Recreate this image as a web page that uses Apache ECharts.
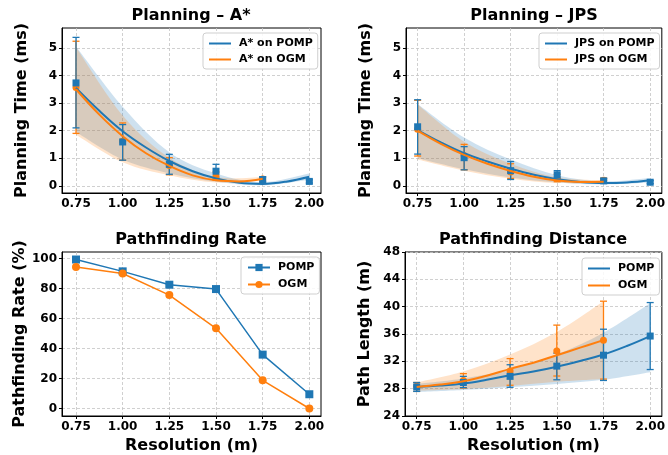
<!DOCTYPE html>
<html><head><meta charset="utf-8">
<script src="https://cdn.jsdelivr.net/npm/echarts@6/dist/echarts.min.js"></script>
<style>html,body{margin:0;padding:0;background:#fff}#c{width:668px;height:455px}</style>
</head><body><div id="c"></div>
<script>
// ---------- data ----------
const RES = [0.75, 1.00, 1.25, 1.50, 1.75, 2.00];
const RES_OGM = [0.75, 1.00, 1.25, 1.50, 1.75];
const FIT_X = [0.75, 0.875, 1.00, 1.125, 1.25, 1.375, 1.50, 1.625, 1.75, 1.875, 2.00];
const FIT_X_OGM = [0.75, 0.875, 1.00, 1.125, 1.25, 1.375, 1.50, 1.625, 1.75];
const X_TICKS = [0.75, 1.00, 1.25, 1.50, 1.75, 2.00];
const TIME_TICKS = [0, 1, 2, 3, 4, 5];
const RATE_TICKS = [0, 20, 40, 60, 80, 100];

// A* planning time (ms)
const astarPompMean = [3.73, 1.59, 0.78, 0.53, 0.23, 0.16];
const astarPompLow  = [2.10, 0.93, 0.42, 0.28, 0.14, 0.10];
const astarPompHigh = [5.38, 2.22, 1.14, 0.78, 0.32, 0.22];
const astarOgmMean  = [3.56, 1.62, 0.74, 0.35, 0.25];
const astarOgmLow   = [1.90, 0.93, 0.40, 0.20, 0.18];
const astarOgmHigh  = [5.24, 2.28, 1.02, 0.50, 0.32];
const astarPompFit  = [3.55, 2.72, 1.98, 1.39, 0.90, 0.53, 0.27, 0.11, 0.07, 0.15, 0.33];
const astarOgmFit   = [3.50, 2.58, 1.80, 1.18, 0.72, 0.38, 0.20, 0.16, 0.26];
const astarPompBandLow  = [1.95, 0.95, 0.45, 0.15, 0.02, 0.22];
const astarPompBandHigh = [5.05, 2.87, 1.22, 0.45, 0.14, 0.45];
const astarOgmBandLow   = [1.85, 0.85, 0.38, 0.12, 0.20];
const astarOgmBandHigh  = [5.02, 2.55, 1.02, 0.32, 0.32];

// JPS planning time (ms)
const jpsPompMean = [2.14, 1.02, 0.55, 0.40, 0.18, 0.13];
const jpsPompLow  = [1.15, 0.58, 0.23, 0.26, 0.12, 0.08];
const jpsPompHigh = [3.12, 1.42, 0.88, 0.55, 0.26, 0.19];
const jpsOgmMean  = [2.05, 1.10, 0.50, 0.28, 0.20];
const jpsOgmLow   = [1.08, 0.58, 0.27, 0.15, 0.12];
const jpsOgmHigh  = [3.10, 1.50, 0.80, 0.42, 0.28];
const jpsPompFit  = [2.02, 1.57, 1.18, 0.88, 0.62, 0.40, 0.24, 0.14, 0.10, 0.12, 0.20];
const jpsOgmFit   = [2.00, 1.52, 1.12, 0.80, 0.54, 0.33, 0.19, 0.14, 0.15];
const jpsPompBandLow  = [1.00, 0.60, 0.30, 0.12, 0.05, 0.12];
const jpsPompBandHigh = [2.97, 1.75, 0.95, 0.38, 0.16, 0.28];
const jpsOgmBandLow   = [0.95, 0.55, 0.26, 0.10, 0.10];
const jpsOgmBandHigh  = [2.95, 1.60, 0.80, 0.30, 0.20];

// Pathfinding rate (%)
const ratePomp = [99.3, 91.4, 82.5, 79.6, 35.9, 9.5];
const rateOgm  = [94.3, 90.0, 75.6, 53.4, 18.8, 0.0];

// Pathfinding distance (m)
const distPompMean = [28.25, 28.9, 29.8, 31.3, 32.9, 35.7];
const distPompLow  = [27.6, 28.15, 28.2, 29.3, 29.2, 30.8];
const distPompHigh = [28.9, 29.8, 31.5, 33.2, 36.7, 40.6];
const distOgmMean  = [28.35, 29.2, 30.6, 33.5, 35.1];
const distOgmLow   = [27.6, 28.1, 28.5, 29.85, 29.4];
const distOgmHigh  = [28.9, 30.2, 32.4, 37.3, 40.8];
const distPompFit  = [28.25, 28.45, 28.75, 29.3, 29.95, 30.5, 31.2, 32.05, 33.0, 34.25, 35.7];
const distOgmFit   = [28.25, 28.6, 29.1, 29.9, 30.9, 31.8, 32.9, 34.0, 35.1];
const distPompBandLow  = [27.5, 27.8, 28.2, 28.7, 29.3, 30.4];
const distPompBandHigh = [28.7, 29.5, 30.8, 33.0, 36.2, 40.5];
const distOgmBandLow   = [27.7, 27.95, 28.4, 29.0, 29.4];
const distOgmBandHigh  = [28.9, 30.5, 33.0, 36.3, 40.8];

// ---------- helpers ----------
const BLUE = '#1f77b4', ORANGE = '#ff7f0e';
const BLUE_BAND = 'rgba(31,119,180,0.22)', ORANGE_BAND = 'rgba(255,127,14,0.22)';
const FONT = 'DejaVu Sans';
const zip = (xs, ys) => xs.map((x, i) => [x, ys[i]]);
const zip3 = (xs, a, b) => xs.map((x, i) => [x, a[i], b[i]]);

function errRender(params, api) {
  const x = api.value(0), lo = api.value(1), hi = api.value(2);
  const p1 = api.coord([x, lo]), p2 = api.coord([x, hi]);
  const c = 3.5;
  const st = { stroke: api.visual('color'), lineWidth: 1.3 };
  return { type: 'group', children: [
    { type: 'line', shape: { x1: p1[0], y1: p1[1], x2: p2[0], y2: p2[1] }, style: st },
    { type: 'line', shape: { x1: p1[0] - c, y1: p1[1], x2: p1[0] + c, y2: p1[1] }, style: st },
    { type: 'line', shape: { x1: p2[0] - c, y1: p2[1], x2: p2[0] + c, y2: p2[1] }, style: st }
  ]};
}

// Catmull-Rom style smooth path segments through pixel points
function smoothSegs(pts) {
  let d = '';
  for (let i = 0; i < pts.length - 1; i++) {
    const p0 = pts[Math.max(i - 1, 0)], p1 = pts[i], p2 = pts[i + 1], p3 = pts[Math.min(i + 2, pts.length - 1)];
    const c1 = [p1[0] + (p2[0] - p0[0]) / 6, p1[1] + (p2[1] - p0[1]) / 6];
    const c2 = [p2[0] - (p3[0] - p1[0]) / 6, p2[1] - (p3[1] - p1[1]) / 6];
    d += ' C' + c1[0] + ' ' + c1[1] + ' ' + c2[0] + ' ' + c2[1] + ' ' + p2[0] + ' ' + p2[1];
  }
  return d;
}
function bandRender(params, api) {
  if (params.dataIndex !== 0) return null;
  const n = params.context.n;
  const up = [], lo = [];
  for (let i = 0; i < n; i++) {
    const x = api.value(0, i), l = api.value(1, i), h = api.value(2, i);
    up.push(api.coord([x, h]));
    lo.push(api.coord([x, l]));
  }
  lo.reverse();
  let d = 'M' + up[0][0] + ' ' + up[0][1] + smoothSegs(up) + ' L' + lo[0][0] + ' ' + lo[0][1] + smoothSegs(lo) + ' Z';
  return { type: 'path', shape: { pathData: d }, style: { fill: api.visual('color') } };
}

const series = [];
function band(idx, xs, lo, hi, color, key) {
  series.push({ type: 'custom', name: key + '_band', xAxisIndex: idx, yAxisIndex: idx,
    data: zip3(xs, lo, hi), encode: { x: 0, y: [1, 2] }, clip: true, silent: true,
    renderItem: (params, api) => { params.context.n = xs.length; return bandRender(params, api); },
    itemStyle: { color: color } });
}
function curve(idx, name, xs, ys, color) {
  series.push({ type: 'line', name: name, xAxisIndex: idx, yAxisIndex: idx, data: zip(xs, ys),
    smooth: 0.4, symbol: 'none', color: color, lineStyle: { color: color, width: 2 } });
}
function errs(idx, key, xs, lo, hi, mean, color, sym) {
  series.push({ type: 'custom', name: key + '_err', xAxisIndex: idx, yAxisIndex: idx,
    data: zip3(xs, lo, hi), encode: { x: 0, y: [1, 2] }, renderItem: errRender,
    itemStyle: { color: color }, silent: true });
  series.push({ type: 'scatter', name: key + '_pts', xAxisIndex: idx, yAxisIndex: idx,
    data: zip(xs, mean), symbol: sym, symbolSize: 7,
    itemStyle: { color: color, opacity: 1 }, silent: true });
}

// Pathfinding rate first (so legend icons pick these series)
series.push({ type: 'line', name: 'POMP', xAxisIndex: 2, yAxisIndex: 2, data: zip(RES, ratePomp),
  symbol: 'rect', symbolSize: 8, color: BLUE, lineStyle: { color: BLUE, width: 1.5 }, itemStyle: { color: BLUE } });
series.push({ type: 'line', name: 'OGM', xAxisIndex: 2, yAxisIndex: 2, data: zip(RES, rateOgm),
  symbol: 'circle', symbolSize: 8, color: ORANGE, lineStyle: { color: ORANGE, width: 1.5 }, itemStyle: { color: ORANGE } });

// A*
band(0, RES, astarPompBandLow, astarPompBandHigh, BLUE_BAND, 'a_pomp');
band(0, RES_OGM, astarOgmBandLow, astarOgmBandHigh, ORANGE_BAND, 'a_ogm');
curve(0, 'A* on POMP', FIT_X, astarPompFit, BLUE);
curve(0, 'A* on OGM', FIT_X_OGM, astarOgmFit, ORANGE);
errs(0, 'a_ogm', RES_OGM, astarOgmLow, astarOgmHigh, astarOgmMean, ORANGE, 'circle');
errs(0, 'a_pomp', RES, astarPompLow, astarPompHigh, astarPompMean, BLUE, 'rect');

// JPS
band(1, RES, jpsPompBandLow, jpsPompBandHigh, BLUE_BAND, 'j_pomp');
band(1, RES_OGM, jpsOgmBandLow, jpsOgmBandHigh, ORANGE_BAND, 'j_ogm');
curve(1, 'JPS on POMP', FIT_X, jpsPompFit, BLUE);
curve(1, 'JPS on OGM', FIT_X_OGM, jpsOgmFit, ORANGE);
errs(1, 'j_ogm', RES_OGM, jpsOgmLow, jpsOgmHigh, jpsOgmMean, ORANGE, 'circle');
errs(1, 'j_pomp', RES, jpsPompLow, jpsPompHigh, jpsPompMean, BLUE, 'rect');

// Distance
band(3, RES, distPompBandLow, distPompBandHigh, BLUE_BAND, 'd_pomp');
band(3, RES_OGM, distOgmBandLow, distOgmBandHigh, ORANGE_BAND, 'd_ogm');
curve(3, 'POMP ', FIT_X, distPompFit, BLUE);
curve(3, 'OGM ', FIT_X_OGM, distOgmFit, ORANGE);
errs(3, 'd_ogm', RES_OGM, distOgmLow, distOgmHigh, distOgmMean, ORANGE, 'circle');
errs(3, 'd_pomp', RES, distPompLow, distPompHigh, distPompMean, BLUE, 'rect');

// ---------- layout ----------
const grids = [
  { left: 62, top: 28, width: 259, height: 165 },
  { left: 406, top: 28, width: 256, height: 165 },
  { left: 62, top: 252, width: 259, height: 165 },
  { left: 405, top: 252, width: 257, height: 165 }
].map(g => Object.assign({ show: true, borderColor: '#000', borderWidth: 1, backgroundColor: '#fff', containLabel: false }, g));

const tickLabel = { fontFamily: FONT, fontWeight: 'bold', fontSize: 12, color: '#000' };
const nameStyle = { fontFamily: FONT, fontWeight: 'bold', fontSize: 16, color: '#000' };
const split = { show: true, lineStyle: { color: '#c4c4c4', type: [3, 2], width: 0.8 } };

function xAxis(idx, min, withName) {
  return { type: 'value', gridIndex: idx, min: min, max: 2.0625,
    name: withName ? 'Resolution (m)' : '', nameLocation: 'middle', nameGap: 22, nameTextStyle: nameStyle,
    axisLine: { show: true, onZero: false, lineStyle: { color: '#000', width: 1 } },
    axisTick: { show: true, length: 3, lineStyle: { color: '#000' }, customValues: X_TICKS },
    axisLabel: Object.assign({ margin: 5, customValues: X_TICKS, formatter: v => v.toFixed(2) }, tickLabel),
    splitLine: split };
}
function yAxis(idx, min, max, ticks, name, interval) {
  const a = { type: 'value', gridIndex: idx, min: min, max: max,
    name: name, nameLocation: 'middle', nameGap: 32, nameTextStyle: nameStyle,
    axisLine: { show: true, onZero: false, lineStyle: { color: '#000', width: 1 } },
    axisTick: { show: true, length: 3, lineStyle: { color: '#000' } },
    axisLabel: Object.assign({ margin: 5 }, tickLabel),
    splitLine: split };
  if (ticks) { a.axisTick.customValues = ticks; a.axisLabel.customValues = ticks; }
  if (interval) a.interval = interval;
  return a;
}

const legendBase = {
  orient: 'vertical', backgroundColor: 'rgba(255,255,255,0.85)', borderColor: '#cfcfcf', borderWidth: 1,
  borderRadius: 3, itemWidth: 22, itemGap: 3, padding: [4, 5, 3, 6],
  textStyle: { fontFamily: FONT, fontWeight: 'bold', fontSize: 11, color: '#000', lineHeight: 13, padding: [0, 0, 0, 3] },
  selectedMode: false
};
const legends = [
  Object.assign({}, legendBase, { left: 203, top: 33, icon: 'rect', itemHeight: 2, data: ['A* on POMP', 'A* on OGM'] }),
  Object.assign({}, legendBase, { left: 539, top: 33, icon: 'rect', itemHeight: 2, data: ['JPS on POMP', 'JPS on OGM'] }),
  Object.assign({}, legendBase, { left: 241, top: 257, itemHeight: 9, itemGap: 4, data: ['POMP', 'OGM'] }),
  Object.assign({}, legendBase, { left: 582, top: 258, icon: 'rect', itemHeight: 2, itemGap: 4, data: ['POMP ', 'OGM '],
    formatter: n => n.trim() })
];

const titleStyle = { fontFamily: FONT, fontWeight: 'bold', fontSize: 16, color: '#000' };
const titles = [
  { text: 'Planning – A*', left: 191, top: 8 },
  { text: 'Planning – JPS', left: 534, top: 8 },
  { text: 'Pathfinding Rate', left: 191, top: 232 },
  { text: 'Pathfinding Distance', left: 533, top: 232 }
].map(t => Object.assign({ textAlign: 'center', padding: 0, textStyle: titleStyle }, t));

const option = {
  animation: false,
  backgroundColor: '#fff',
  title: titles,
  legend: legends,
  grid: grids,
  xAxis: [xAxis(0, 0.675, false), xAxis(1, 0.6875, false), xAxis(2, 0.675, true), xAxis(3, 0.6875, true)],
  yAxis: [
    yAxis(0, -0.26, 5.72, TIME_TICKS, 'Planning Time (ms)'),
    yAxis(1, -0.26, 5.72, TIME_TICKS, 'Planning Time (ms)'),
    yAxis(2, -5, 104.3, RATE_TICKS, 'Pathfinding Rate (%)'),
    yAxis(3, 24, 48, null, 'Path Length (m)', 4)
  ],
  series: series
};
const chart = echarts.init(document.getElementById('c'), null, { renderer: 'canvas' });
chart.setOption(option);
</script></body></html>
